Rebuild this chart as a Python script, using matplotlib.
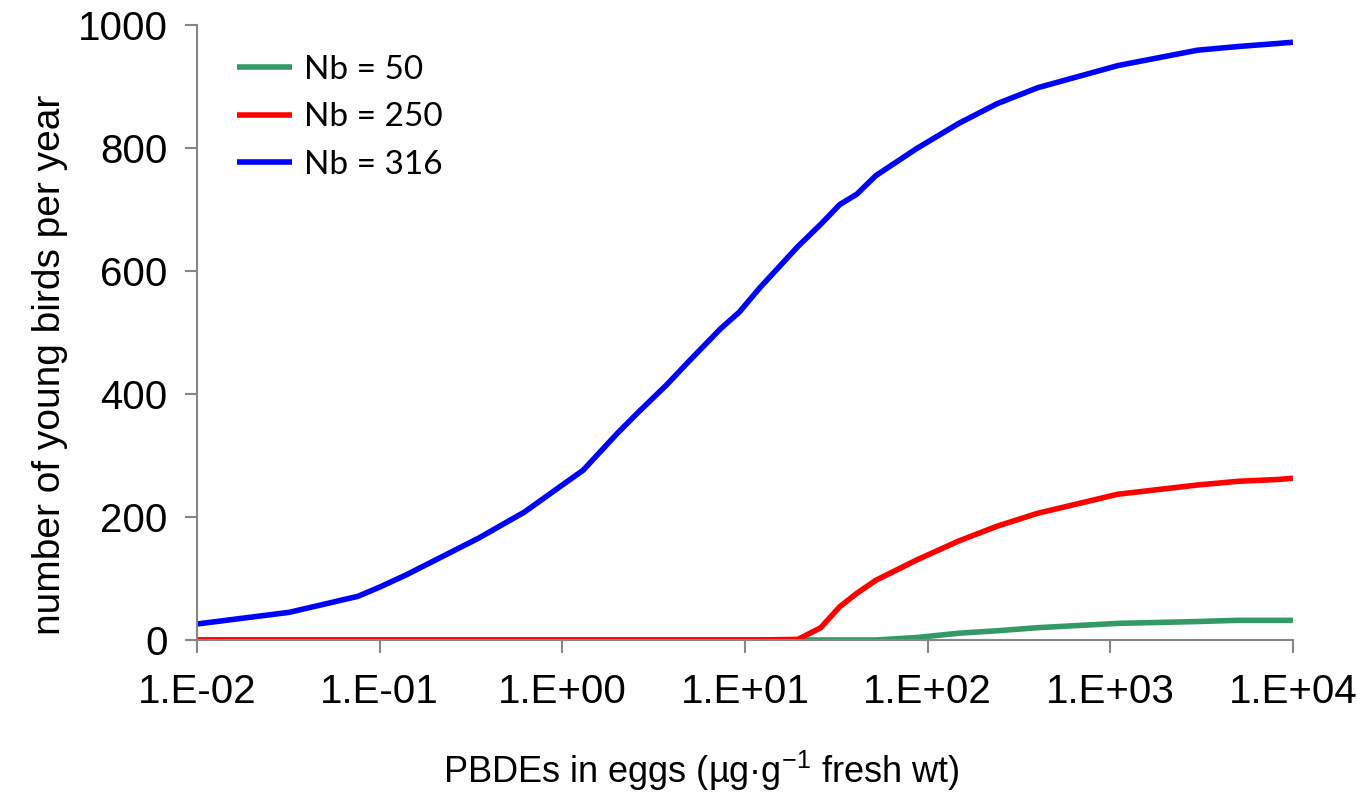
import numpy as np
import matplotlib
matplotlib.use('Agg')
import matplotlib.pyplot as plt
from matplotlib.ticker import FixedLocator, FixedFormatter, NullLocator

# PBDE concentration in eggs (ug/g fresh wt)
pbde = [0.01, 0.032, 0.076, 0.1, 0.14, 0.35, 0.62, 1.0, 1.3, 2.0, 2.6, 3.7, 5.0,
        7.4, 9.3, 12.0, 19.5, 26.0, 33.0, 41.0, 52.0, 87.0, 148.0, 240.0, 400.0,
        1100.0, 3000.0, 5000.0, 8300.0, 10000.0]

# young birds per year for each number of breeding pairs
nb_50 = [0, 0, 0, 0, 0, 0, 0, 0, 0, 0, 0, 0, 0,
         0, 0, 0, 0, 0, 0, 0, 0, 4, 11, 15, 20,
         27, 30, 32, 32, 32]
nb_250 = [0, 0, 0, 0, 0, 0, 0, 0, 0, 0, 0, 0, 0,
          0, 0, 0, 1, 20, 54, 76, 97, 130, 161, 185, 206,
          237, 252, 258, 261, 263]
nb_316 = [26, 45, 71, 86, 106, 166, 208, 252, 276, 336, 370, 414, 455,
          507, 533, 572, 640, 676, 708, 725, 755, 799, 840, 872, 898,
          934, 959, 965, 970, 972]

series_labels = ['Nb = 50', 'Nb = 250', 'Nb = 316']
series_colors = ['#339966', '#ff0000', '#0000ff']

x_ticks = [1e-2, 1e-1, 1e0, 1e1, 1e2, 1e3, 1e4]
x_ticklabels = ['1.E-02', '1.E-01', '1.E+00', '1.E+01', '1.E+02', '1.E+03', '1.E+04']
y_ticks = [0, 200, 400, 600, 800, 1000]

plt.rcParams['font.family'] = ['Liberation Sans', 'DejaVu Sans']

fig = plt.figure(figsize=(13.57, 7.96), dpi=100)
ax = fig.add_axes([0.1452, 0.196, 0.8076, 0.7726])

for vals, lab, col in zip([nb_50, nb_250, nb_316], series_labels, series_colors):
    ax.plot(pbde, vals, color=col, lw=4.0, label=lab, solid_capstyle='butt',
            solid_joinstyle='round')

ax.set_xscale('log')
ax.set_xlim(1e-2, 1e4)
ax.set_ylim(0, 1000)
ax.xaxis.set_major_locator(FixedLocator(x_ticks))
ax.xaxis.set_major_formatter(FixedFormatter(x_ticklabels))
ax.xaxis.set_minor_locator(NullLocator())
ax.set_yticks(y_ticks)

gray = '#878787'
for s in ['top', 'right']:
    ax.spines[s].set_visible(False)
for s in ['left', 'bottom']:
    ax.spines[s].set_color(gray)
    ax.spines[s].set_linewidth(1.5)
ax.tick_params(axis='both', direction='out', length=9, width=1.5, color=gray,
               labelsize=29)
ax.tick_params(axis='x', pad=15)
ax.tick_params(axis='y', pad=12)

ax.set_xlabel('PBDEs in eggs (µg·g$^{\\mathregular{-1}}$ fresh wt)', fontsize=26)
ax.xaxis.set_label_coords(0.46, -0.177)
ax.set_ylabel('number of young birds per year', fontsize=28)
ax.yaxis.set_label_coords(-0.118, 0.447)

leg = ax.legend(loc='upper left', bbox_to_anchor=(0.009, 1.0), frameon=False,
                prop={'family': 'Lato', 'size': 24}, handlelength=1.64,
                handletextpad=0.38, labelspacing=0.52)

fig.savefig('out.png', dpi=100)
